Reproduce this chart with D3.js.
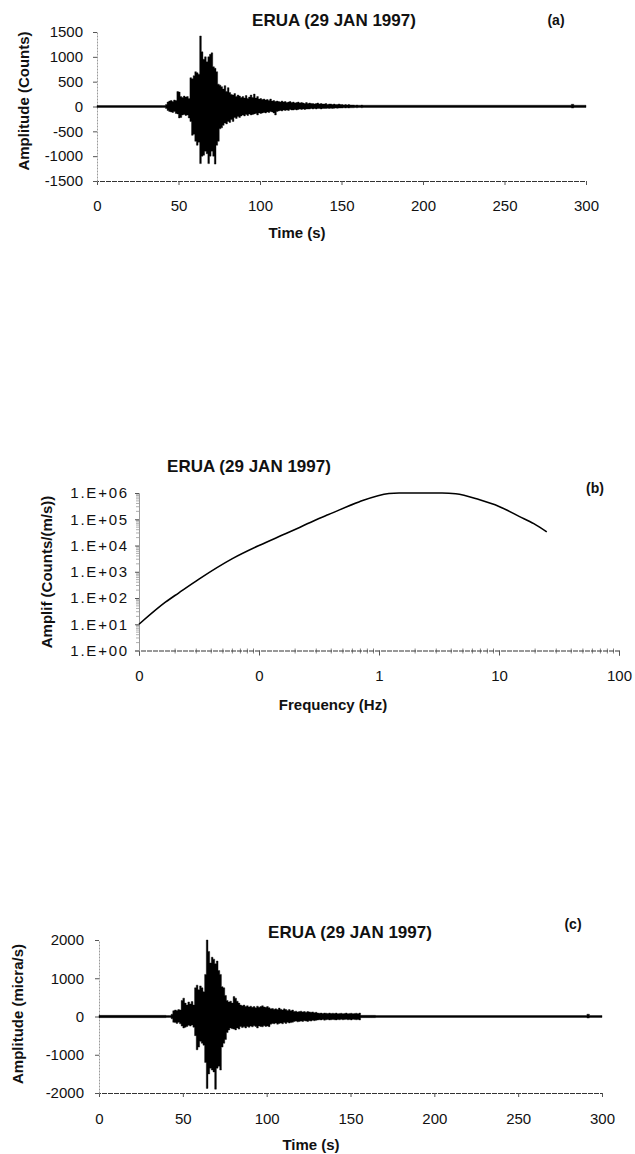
<!DOCTYPE html>
<html>
<head>
<meta charset="utf-8">
<script src="https://cdn.jsdelivr.net/npm/d3@7"></script>
<style>
  html, body { margin: 0; padding: 0; background: #fff; }
  svg { display: block; font-family: "Liberation Sans", Arial, sans-serif; }
</style>
</head>
<body>
<svg id="fig" width="635" height="1154"></svg>
<script>
// ---------- Station / event ----------
const titleText = "ERUA (29 JAN 1997)";

// ---------- (a) raw record, counts: 1-s max/min envelope ----------
const timeTicksA = [0, 50, 100, 150, 200, 250, 300];
const ampTicksA = [-1500, -1000, -500, 0, 500, 1000, 1500];
const preNoiseA = [20, -20];              // before the burst window
const burstStartA = 40;                   // first 1-s bin (s)
const burstHiA = [
  20, 20, 40, 90, 110, 120, 100, 130, 120, 300,
  290, 200, 180, 210, 190, 200, 160, 580, 560, 620,
  700, 680, 650, 1420, 1100, 950, 1000, 900, 1000, 1050,
  1080, 800, 770, 700, 450, 430, 400, 350, 420, 300,
  380, 280, 240, 230, 260, 200, 230, 210, 180, 200,
  170, 220, 160, 190, 230, 180, 250, 170, 200, 150,
  160, 140, 150, 130, 140, 120, 150, 110, 120, 100,
  110, 100, 90, 110, 90, 100, 80, 90, 100, 80,
  90, 70, 80, 90, 70, 80, 70, 60, 80, 60,
  70, 60, 60, 50, 60, 70, 50, 60, 50, 50,
  60, 40, 50, 50, 40, 50, 40, 40, 50, 40,
  40, 30, 40, 30, 40, 30, 30, 30, 25, 30,
  25, 25, 30, 25, 25
];
const burstLoA = [
  -20, -20, -40, -80, -100, -110, -120, -100, -140, -150,
  -230, -220, -170, -160, -180, -170, -230, -300, -580, -560,
  -700, -780, -720, -1150, -1000, -980, -900, -950, -1150, -1000,
  -900, -1000, -1160, -780, -700, -450, -430, -380, -330, -350,
  -300, -320, -260, -300, -220, -240, -200, -220, -190, -170,
  -190, -160, -180, -150, -170, -160, -150, -140, -170, -130,
  -140, -130, -120, -130, -110, -120, -100, -110, -130, -170,
  -100, -90, -80, -90, -70, -80, -70, -80, -60, -70,
  -70, -60, -70, -60, -50, -60, -50, -60, -50, -50,
  -50, -40, -50, -40, -50, -40, -40, -50, -40, -40,
  -40, -35, -40, -35, -40, -35, -30, -35, -30, -30,
  -30, -25, -30, -25, -30, -25, -25, -25, -20, -25,
  -20, -20, -25, -20, -20
];
const tailA = [[165, 25, -20], [291, 45, -30], [292.5, 25, -20]];   // [start s, max, min]

// ---------- (b) instrument response ----------
const freqB = [0.01, 0.0167, 0.0215, 0.0316, 0.06, 0.1, 0.166, 0.22, 0.316, 0.38,
               0.68, 1.21, 1.47, 3.35, 4.36, 6.8, 10, 14.7, 19.5, 25];
const ampB = [10, 71, 158, 525, 3160, 10000, 28000, 50000, 107000, 151000,
              457000, 955000, 1000000, 1000000, 933000, 562000, 309000, 129000, 68000, 33000];
const freqTicksB = [0.01, 0.1, 1, 10, 100];
const ampTicksB = [1, 10, 100, 1000, 10000, 100000, 1000000];

// ---------- (c) velocity record, micra/s: 1-s max/min envelope ----------
const timeTicksC = [0, 50, 100, 150, 200, 250, 300];
const ampTicksC = [-2000, -1000, 0, 1000, 2000];
const preNoiseC = [30, -30];
const burstStartC = 40;
const burstHiC = [
  25, 25, 25, 60, 150, 170, 160, 180, 170, 420,
  480, 350, 300, 380, 330, 390, 300, 750, 820, 700,
  800, 750, 650, 1100, 2000, 1700, 1400, 1550, 1500, 1380,
  1450, 1200, 1100, 780, 750, 550, 420, 380, 400, 350,
  520, 480, 400, 350, 300, 280, 300, 260, 280, 250,
  270, 240, 260, 230, 270, 240, 260, 280, 250, 240,
  260, 230, 200, 210, 190, 200, 180, 220, 190, 170,
  200, 180, 160, 180, 150, 170, 130, 140, 120, 130,
  140, 120, 130, 110, 130, 120, 110, 120, 100, 110,
  90, 85, 90, 80, 90, 85, 80, 90, 80, 85,
  80, 90, 75, 80, 85, 75, 80, 90, 75, 80,
  85, 75, 80, 85, 75, 90, 30, 30, 30, 30,
  30, 30, 30, 30, 30
];
const burstLoC = [
  -25, -25, -25, -60, -150, -160, -180, -150, -190, -250,
  -300, -280, -260, -230, -250, -220, -280, -500, -870, -800,
  -650, -700, -750, -1200, -1880, -1500, -1350, -1400, -1450, -1900,
  -1350, -1300, -1400, -800, -700, -600, -420, -350, -300, -320,
  -330, -350, -300, -330, -260, -290, -270, -300, -260, -280,
  -250, -270, -240, -260, -300, -250, -260, -270, -240, -260,
  -250, -265, -200, -180, -190, -170, -200, -180, -170, -190,
  -160, -180, -150, -170, -160, -150, -130, -120, -140, -130,
  -120, -130, -110, -120, -130, -110, -120, -100, -110, -100,
  -90, -85, -90, -80, -95, -85, -80, -90, -85, -80,
  -85, -90, -80, -85, -75, -85, -80, -75, -85, -80,
  -90, -75, -80, -85, -80, -90, -30, -30, -30, -30,
  -30, -30, -30, -30, -30
];
const tailC = [[165, 25, -25], [291, 60, -40], [292.5, 25, -25]];

// ---------- drawing ----------
const svg = d3.select("#fig");
svg.append("rect").attr("width", 635).attr("height", 1154).attr("fill", "#fff");

const TICK_FONT = 15;
const plain = d => String(d);   // "-1500", no grouping, ASCII minus

function styleAxis(g, domainColor, dash) {
  g.select(".domain").attr("stroke", domainColor).attr("stroke-width", 1)
    .attr("stroke-dasharray", dash || null);
  g.selectAll(".tick line").attr("stroke", "#555").attr("stroke-width", 1);
  g.selectAll(".tick text").attr("fill", "#111").attr("font-size", TICK_FONT)
    .attr("font-family", '"Liberation Sans", Arial, sans-serif');
}

function boldText(x, y, txt, size, anchor, rotate) {
  const t = svg.append("text")
    .attr("font-weight", "bold").attr("font-size", size)
    .attr("fill", "#111").attr("text-anchor", anchor || "middle")
    .text(txt);
  if (rotate) {
    t.attr("transform", `translate(${x},${y}) rotate(-90)`).attr("dy", "0.35em");
  } else {
    t.attr("x", x).attr("y", y);
  }
  return t;
}

function seismogram(cfg) {
  const { x, y, preNoise, start, hi, lo, tail, xTicks, yTicks,
          xPad, yPad, title, tag, yLabel, xLabel } = cfg;
  const g = svg.append("g");

  // x axis along the bottom of the plot area
  const gx = g.append("g").attr("transform", `translate(0,${y.range()[0]})`)
    .call(d3.axisBottom(x).tickValues(xTicks).tickFormat(plain)
      .tickSize(4).tickPadding(xPad).tickSizeOuter(4));
  styleAxis(gx, "#333", "5 1");

  // y axis
  const gy = g.append("g").attr("transform", `translate(${x.range()[0]},0)`)
    .call(d3.axisLeft(y).tickValues(yTicks).tickFormat(plain)
      .tickSize(4).tickPadding(yPad).tickSizeOuter(0));
  styleAxis(gy, "#9a9a9a", "2 1");

  // envelope steps: pre-event noise, 1-s burst bins, tail segments
  const steps = [{ t: 0, hi: preNoise[0], lo: preNoise[1] }];
  hi.forEach((v, i) => steps.push({ t: start + i, hi: v, lo: lo[i] }));
  tail.forEach(d => steps.push({ t: d[0], hi: d[1], lo: d[2] }));
  const last = steps[steps.length - 1];
  steps.push({ t: 300, hi: last.hi, lo: last.lo });

  const area = d3.area()
    .x(d => x(d.t)).y0(d => y(d.lo)).y1(d => y(d.hi))
    .curve(d3.curveStepAfter);
  g.append("path").datum(steps).attr("d", area)
    .attr("fill", "#000").attr("stroke", "#000").attr("stroke-width", 0.4);

  boldText(title[0], title[1], titleText, 17);
  boldText(tag[0], tag[1], tag[2], 14);
  boldText(yLabel[0], yLabel[1], yLabel[2], 15, "middle", true);
  boldText(xLabel[0], xLabel[1], xLabel[2], 15);
}

// (a)
seismogram({
  x: d3.scaleLinear([0, 300], [97, 586]),
  y: d3.scaleLinear([-1500, 1500], [181, 32]),
  preNoise: preNoiseA, start: burstStartA, hi: burstHiA, lo: burstLoA, tail: tailA,
  xTicks: timeTicksA, yTicks: ampTicksA, xPad: 15, yPad: 10,
  title: [334, 26], tag: [556, 25, "(a)"],
  yLabel: [24, 101, "Amplitude (Counts)"], xLabel: [297, 238, "Time (s)"]
});

// (c)
seismogram({
  x: d3.scaleLinear([0, 300], [99, 602]),
  y: d3.scaleLinear([-2000, 2000], [1093, 940]),
  preNoise: preNoiseC, start: burstStartC, hi: burstHiC, lo: burstLoC, tail: tailC,
  xTicks: timeTicksC, yTicks: ampTicksC, xPad: 16, yPad: 11,
  title: [350, 938], tag: [573, 929, "(c)"],
  yLabel: [18, 1014, "Amplitude (micra/s)"], xLabel: [311, 1150, "Time (s)"]
});

// (b) response curve, log-log
(function () {
  const x = d3.scaleLog([0.01, 100], [139, 619]);
  const y = d3.scaleLog([1, 1e6], [650.5, 493]);
  const g = svg.append("g");
  const y0 = y.range()[0], x0 = x.range()[0];

  // minor ticks
  const minorX = [], minorY = [];
  for (let k = -2; k < 2; k++) for (let m = 2; m <= 9; m++) minorX.push(m * Math.pow(10, k));
  for (let k = 0; k < 6; k++) for (let m = 2; m <= 9; m++) minorY.push(m * Math.pow(10, k));
  g.selectAll("line.mx").data(minorX).join("line")
    .attr("x1", d => x(d)).attr("x2", d => x(d))
    .attr("y1", y0 - 2).attr("y2", y0 + 3)
    .attr("stroke", "#666").attr("stroke-width", 0.8);
  g.selectAll("line.my").data(minorY).join("line")
    .attr("x1", x0 - 3).attr("x2", x0)
    .attr("y1", d => y(d)).attr("y2", d => y(d))
    .attr("stroke", "#999").attr("stroke-width", 0.8);

  const gx = g.append("g").attr("transform", `translate(0,${y0})`)
    .call(d3.axisBottom(x).tickValues(freqTicksB).tickSize(5).tickPadding(15)
      .tickFormat(d => d3.format(".0f")(d)));
  styleAxis(gx, "#333", "5 1");

  const gy = g.append("g").attr("transform", `translate(${x0},0)`)
    .call(d3.axisLeft(y).tickValues(ampTicksB).tickSize(4).tickPadding(6)
      .tickFormat(d => "1.E+" + String(Math.round(Math.log10(d))).padStart(2, "0")));
  styleAxis(gy, "#9a9a9a");
  gy.selectAll(".tick text").attr("letter-spacing", 1.8);

  const line = d3.line().x((d, i) => x(freqB[i])).y(d => y(d)).curve(d3.curveMonotoneX);
  g.append("path").datum(ampB).attr("d", line)
    .attr("fill", "none").attr("stroke", "#000").attr("stroke-width", 1.6);

  boldText(249, 472, titleText, 17);
  boldText(595, 493, "(b)", 14);
  boldText(47, 572, "Amplif (Counts/(m/s))", 15, "middle", true);
  boldText(333, 710, "Frequency (Hz)", 15);
})();
</script>
</body>
</html>
